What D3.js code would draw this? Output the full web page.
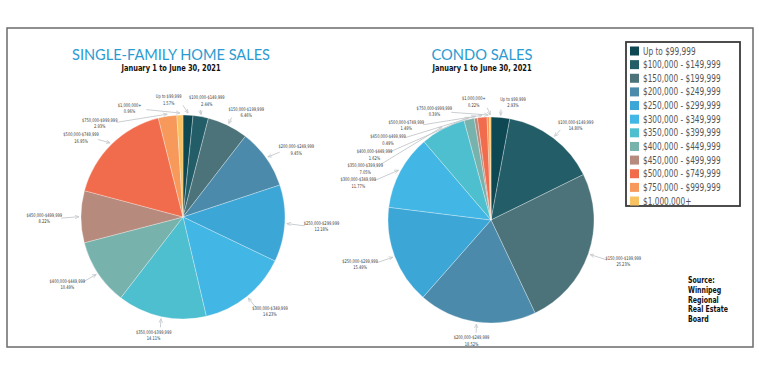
<!DOCTYPE html>
<html>
<head>
<meta charset="utf-8">
<script src="https://cdn.jsdelivr.net/npm/d3@7/dist/d3.min.js"></script>
<style>
  html, body { margin: 0; padding: 0; background: #fff; }
  svg { display: block; }
  .narrow { font-family: "Liberation Sans Narrow", "DejaVu Sans Condensed", "Arial Narrow", sans-serif; }
</style>
</head>
<body>
<svg id="chart" width="759" height="380"></svg>
<script>
// ---------- DATA ----------
const categories = [
  "Up to $99,999",
  "$100,000 - $149,999",
  "$150,000 - $199,999",
  "$200,000 - $249,999",
  "$250,000 - $299,999",
  "$300,000 - $349,999",
  "$350,000 - $399,999",
  "$400,000 - $449,999",
  "$450,000 - $499,999",
  "$500,000 - $749,999",
  "$750,000 - $999,999",
  "$1,000,000+"
];
const singleFamilyValues = [1.57, 2.44, 6.46, 9.45, 12.18, 14.23, 14.11, 10.49, 8.22, 16.95, 2.93, 0.96];
const condoValues        = [2.93, 14.80, 25.23, 18.52, 15.49, 11.77, 7.05, 1.62, 0.49, 1.49, 0.39, 0.22];
const colors = ["#0e4853", "#235d68", "#4b7379", "#4b8aaa", "#3ca6d7", "#42b6e4",
                "#4ebfcf", "#77b2ad", "#b68b7d", "#f06c4c", "#f6995a", "#f8c262"];
const titles = ["SINGLE-FAMILY HOME SALES", "CONDO SALES"];
const subtitle = "January 1 to June 30, 2021";
const sourceLines = ["Source:", "Winnipeg", "Regional", "Real Estate", "Board"];

// ---------- DRAW ----------
const svg = d3.select("#chart");
const W = 759, H = 380;
svg.append("rect").attr("width", W).attr("height", H).attr("fill", "#fff");

svg.append("rect").attr("x", 7).attr("y", 28).attr("width", 746).attr("height", 319)
  .attr("fill", "none").attr("stroke", "#6b6b6b").attr("stroke-width", 1.5);

const defs = svg.append("defs");
defs.append("marker").attr("id", "arrow").attr("viewBox", "0 0 10 10")
  .attr("refX", 9).attr("refY", 5).attr("markerWidth", 5).attr("markerHeight", 5)
  .attr("orient", "auto")
  .append("path").attr("d", "M0,1 L9,5 L0,9").attr("fill", "none")
  .attr("stroke", "#c4c8cc").attr("stroke-width", 1.6);

const color = d3.scaleOrdinal().domain(categories).range(colors);
const pie = d3.pie().sort(null).value(d => d.v);

const charts = [
  { values: singleFamilyValues, cx: 183, cy: 217, r: 102, titleX: 171, titleW: 198 },
  { values: condoValues,        cx: 491, cy: 220, r: 103, titleX: 482, titleW: 101 }
];

charts.forEach((c, ci) => {
  const g = svg.append("g").attr("transform", `translate(${c.cx},${c.cy})`);
  const data = categories.map((k, i) => ({ k, v: c.values[i] }));
  const arcs = pie(data);
  const arc = d3.arc().innerRadius(0).outerRadius(c.r);

  g.selectAll("path.slice").data(arcs).join("path")
    .attr("class", "slice")
    .attr("d", arc)
    .attr("fill", d => color(d.data.k))
    .attr("stroke", "#ffffff").attr("stroke-width", 0.3);

  const kx = 1.36, ky = 1.17;
  const labels = arcs.map(a => {
    const m = (a.startAngle + a.endAngle) / 2;
    return { a, m, t: m, text: [a.data.k.replace(" - ", "-"), a.data.v.toFixed(2) + "%"] };
  });
  const pos = L => ({ x: Math.sin(L.t) * c.r * kx, y: -Math.cos(L.t) * c.r * ky });
  // angular relaxation: crowded labels are pushed counter-clockwise
  const lw = 38, lh = 14;
  for (let it = 0; it < 300; it++) {
    let moved = false;
    for (let i = 0; i < labels.length; i++) {
      const j = (i + 1) % labels.length;
      const A = labels[i], B = labels[j];
      const pa = pos(A), pb = pos(B);
      if (Math.abs(pb.x - pa.x) < lw && Math.abs(pb.y - pa.y) < lh) {
        A.t -= 0.012; B.t += 0.003;
        moved = true;
      }
    }
    if (!moved) break;
  }

  labels.forEach(L => {
    const p = pos(L);
    const ex = Math.sin(L.m) * c.r * 1.02, ey = -Math.cos(L.m) * c.r * 1.02;
    const dx = ex - p.x, dy = ey - (p.y + 2);
    const len = Math.hypot(dx, dy);
    const ux = dx / len, uy = dy / len;
    const sx = p.x + ux * 17, sy = p.y + 2 + uy * 9;
    if (Math.hypot(ex - sx, ey - sy) > 4) {
      g.append("line")
        .attr("x1", sx).attr("y1", sy).attr("x2", ex).attr("y2", ey)
        .attr("stroke", "#c4c8cc").attr("stroke-width", 0.9)
        .attr("marker-end", "url(#arrow)");
    }
    const tg = g.append("g").attr("transform", `translate(${p.x},${p.y}) scale(0.8,1)`);
    const t = tg.append("text").attr("class", "narrow")
      .attr("text-anchor", "middle")
      .attr("font-size", 5).attr("fill", "#3a3a3a");
    L.text.forEach((s, i) => t.append("tspan").attr("x", 0).attr("dy", i === 0 ? 0 : 6.5).text(s));
  });

  svg.append("text")
    .attr("x", c.titleX).attr("y", 60)
    .attr("text-anchor", "middle")
    .attr("font-family", "Lato, 'Open Sans', sans-serif")
    .attr("font-size", 15).attr("fill", "#2b9bd1")
    .attr("textLength", c.titleW).attr("lengthAdjust", "spacingAndGlyphs")
    .text(titles[ci]);
  svg.append("text").attr("class", "narrow")
    .attr("x", c.titleX).attr("y", 71)
    .attr("text-anchor", "middle")
    .attr("font-size", 9).attr("font-weight", "bold").attr("fill", "#111")
    .attr("textLength", 99).attr("lengthAdjust", "spacingAndGlyphs")
    .text(subtitle);
});

// legend
const lg = svg.append("g");
lg.append("rect").attr("x", 626).attr("y", 42).attr("width", 114).attr("height", 164)
  .attr("fill", "#fff").attr("stroke", "#3a3a3a").attr("stroke-width", 1.8);
const ly = d3.scalePoint().domain(categories).range([51, 201]);
categories.forEach(k => {
  lg.append("rect").attr("x", 630).attr("y", ly(k) - 4.5).attr("width", 9).attr("height", 9)
    .attr("fill", color(k));
  lg.append("g").attr("transform", `translate(643,${ly(k) + 3.5}) scale(0.82,1)`)
    .append("text").attr("class", "narrow")
    .attr("font-size", 10).attr("fill", "#555")
    .text(k);
});

// source
const sg = svg.append("g").attr("transform", "translate(688,283) scale(0.74,1)");
const st = sg.append("text").attr("class", "narrow")
  .attr("font-size", 9.4).attr("font-weight", "bold").attr("fill", "#111");
sourceLines.forEach((s, i) => st.append("tspan").attr("x", 0).attr("dy", i === 0 ? 0 : 9.8).text(s));
</script>
</body>
</html>
